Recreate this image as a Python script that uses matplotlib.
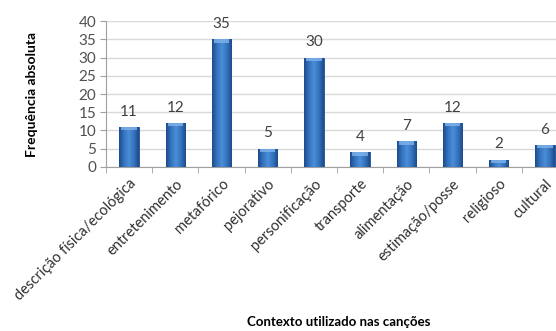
import matplotlib
matplotlib.use("Agg")
import matplotlib.pyplot as plt
import numpy as np
from matplotlib.colors import LinearSegmentedColormap

plt.rcParams['font.family'] = ['Lato', 'DejaVu Sans']

contextos = ["descrição física/ecológica", "entretenimento", "metafórico", "pejorativo",
             "personificação", "transporte", "alimentação", "estimação/posse",
             "religioso", "cultural"]
frequencias = [11, 12, 35, 5, 30, 4, 7, 12, 2, 6]
yticks = [0, 5, 10, 15, 20, 25, 30, 35, 40]

fig = plt.figure(figsize=(5.56, 3.31), dpi=100)
ax = fig.add_axes([0.1906, 0.4955, 0.831, 0.441])

x = np.arange(len(contextos))
bars = ax.bar(x, frequencias, width=0.42, color="#2F6DB5", edgecolor="#1E4F8F",
              linewidth=0.6, zorder=3)

# shaded fill for each bar: dark edges, lighter middle
cmap = LinearSegmentedColormap.from_list(
    "barra", ["#1D4C8C", "#3473BE", "#4C8ED8", "#3473BE", "#1D4C8C"])
grad = np.linspace(0, 1, 64).reshape(1, -1)
for b in bars:
    x0, y0 = b.get_x(), b.get_y()
    w, h = b.get_width(), b.get_height()
    im = ax.imshow(grad, cmap=cmap, aspect="auto", extent=(x0, x0 + w, y0, y0 + h),
                   zorder=3.5)
    im.set_clip_path(b)
    # light cap on top of the bar
    cap = min(0.9, h * 0.4)
    ax.bar(x0 + w / 2, cap, bottom=h - cap, width=w * 0.8,
           color="#7FB3EA", alpha=0.8, zorder=4, linewidth=0)

for xi, v in zip(x, frequencias):
    ax.annotate(str(v), (xi, v), xytext=(0, 6), textcoords="offset points",
                ha="center", va="bottom", fontsize=11, color="#404040",
                annotation_clip=False)

ax.set_xlim(-0.5, len(contextos) - 0.5)
ax.set_ylim(0, 40)
ax.set_yticks(yticks)
ax.tick_params(axis="y", labelsize=11, colors="#505050", length=4, color="#A0A0A0",
               pad=3)
ax.yaxis.grid(True, color="#D9D9D9", linewidth=1, zorder=0)
ax.set_axisbelow(True)

ax.set_xticks(x)
ax.set_xticklabels(contextos, rotation=45, ha="right", rotation_mode="anchor",
                   fontsize=10.5, color="#303030")
ax.tick_params(axis="x", length=0, pad=7)
ax.set_xticks(np.arange(len(contextos) + 1) - 0.5, minor=True)
ax.tick_params(axis="x", which="minor", length=4, color="#A0A0A0")

for s in ["top", "right"]:
    ax.spines[s].set_visible(False)
for s in ["left", "bottom"]:
    ax.spines[s].set_color("#A0A0A0")

ax.set_ylabel("Frequência absoluta", fontsize=10, fontweight="bold", labelpad=29)
fig.text(0.61, 0.01, "Contexto utilizado nas canções", fontsize=9.5,
         fontweight="bold", ha="center", va="bottom")

fig.savefig("out.png", dpi=100)
